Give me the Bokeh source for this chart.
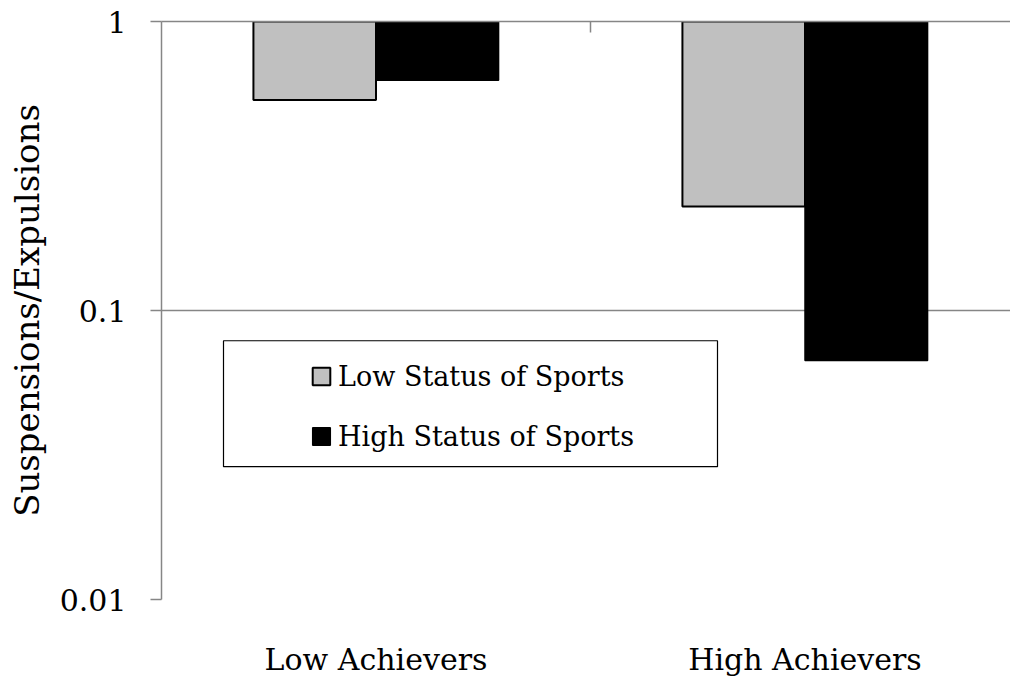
import math
from bokeh.plotting import figure
from bokeh.models import (ColumnDataSource, Range1d, FixedTicker, LinearAxis, Legend,
                          LegendItem, BoxAnnotation)
from bokeh.transform import dodge
from bokeh.embed import file_html
from bokeh.resources import INLINE

# ---- data ----
categories = ["Low Achievers", "High Achievers"]
low_status_of_sports = [0.535, 0.229]
high_status_of_sports = [0.626, 0.0671]
series_names = ["Low Status of Sports", "High Status of Sports"]
y_ticks = [0.01, 0.1, 1]
y_tick_labels = ["0.01", "0.1", "1"]
axis_cross = 1  # bars hang from the axis crossing at 1

# ---- layout ----
W, H = 1010, 679
FRAME_L, FRAME_T, FRAME_B = 161, 21, 604
CAT_PX = 429  # pixels per category
FONT = "DejaVu Serif"
GRID = "#868686"

cat_pos = [i + 0.5 for i in range(len(categories))]
src = ColumnDataSource(dict(x=cat_pos, low=low_status_of_sports,
                            high=high_status_of_sports,
                            base=[axis_cross] * len(categories)))

x_end = (W - FRAME_L) / CAT_PX
p = figure(width=W, height=H, output_backend="svg", toolbar_location=None,
           y_axis_type="log", x_range=Range1d(0, x_end),
           y_range=Range1d(min(y_ticks), max(y_ticks)),
           min_border_left=FRAME_L, min_border_right=0,
           min_border_top=FRAME_T, min_border_bottom=H - FRAME_B)
p.outline_line_color = None
p.background_fill_color = "white"
p.border_fill_color = "white"

bw = 1 / 3.5
r_low = p.vbar(x=dodge("x", -bw / 2, range=p.x_range), width=bw, top="base", bottom="low",
               source=src, fill_color="#C0C0C0", line_color="black", line_width=2)
r_high = p.vbar(x=dodge("x", bw / 2, range=p.x_range), width=bw, top="base", bottom="high",
                source=src, fill_color="black", line_color="black", line_width=1.5)

# y axis
yax = p.yaxis[0]
yax.ticker = FixedTicker(ticks=y_ticks, minor_ticks=[])
yax.major_label_overrides = {t: l for t, l in zip(y_ticks, y_tick_labels)}
yax.major_label_text_font = FONT
yax.major_label_text_font_size = "30px"
yax.major_label_text_color = "black"
yax.major_tick_in = 0
yax.major_tick_out = 11
yax.minor_tick_line_color = None
yax.major_tick_line_color = GRID
yax.major_tick_line_width = 1.5
yax.axis_line_color = GRID
yax.axis_line_width = 1.5
yax.major_label_standoff = 24
yax.axis_label = "Suspensions/Expulsions"
yax.axis_label_text_font = FONT
yax.axis_label_text_font_size = "34px"
yax.axis_label_text_font_style = "normal"
yax.axis_label_text_color = "black"
yax.axis_label_standoff = 10

# x axis (labels only)
xax = p.xaxis[0]
xax.ticker = FixedTicker(ticks=cat_pos)
xax.major_label_overrides = {c: n for c, n in zip(cat_pos, categories)}
xax.major_label_text_font = FONT
xax.major_label_text_font_size = "30px"
xax.major_label_text_color = "black"
xax.axis_line_color = None
xax.major_tick_line_color = None
xax.minor_tick_line_color = None
xax.major_label_standoff = 36

# category axis crossing at the top, with the between-category tick
top_ax = LinearAxis(ticker=FixedTicker(ticks=[1.0]), major_label_overrides={1.0: ""},
                    major_label_text_font_size="1px", major_label_standoff=0,
                    major_tick_in=11, major_tick_out=0, minor_tick_line_color=None,
                    major_tick_line_color=GRID, major_tick_line_width=1.5,
                    axis_line_color=GRID, axis_line_width=1.5)
p.add_layout(top_ax, "above")

p.xgrid.grid_line_color = None
p.ygrid.ticker = FixedTicker(ticks=y_ticks, minor_ticks=[])
p.ygrid.grid_line_color = GRID
p.ygrid.grid_line_width = 1.5

# legend border (pixel box converted to data space)
decade_px = (FRAME_B - FRAME_T) / (math.log10(max(y_ticks)) - math.log10(min(y_ticks)))
def px_to_x(px):
    return (px - FRAME_L) / CAT_PX
def px_to_y(py):
    return 10 ** (math.log10(max(y_ticks)) - (py - FRAME_T) / decade_px)

box = BoxAnnotation(left=px_to_x(223), right=px_to_x(717), top=px_to_y(343), bottom=px_to_y(470),
                    fill_color=None, line_color="black", line_width=1.2, line_alpha=1)
p.add_layout(box)

legend = Legend(items=[LegendItem(label=series_names[0], renderers=[r_low]),
                       LegendItem(label=series_names[1], renderers=[r_high])],
                location=(149, 143), padding=0, margin=0, spacing=20,
                glyph_width=22, glyph_height=22, label_height=40, label_standoff=6,
                label_text_font=FONT, label_text_font_size="27px", label_text_color="black",
                border_line_color=None, background_fill_alpha=0)
p.add_layout(legend)

open("out.html", "w").write(file_html(p, INLINE))
